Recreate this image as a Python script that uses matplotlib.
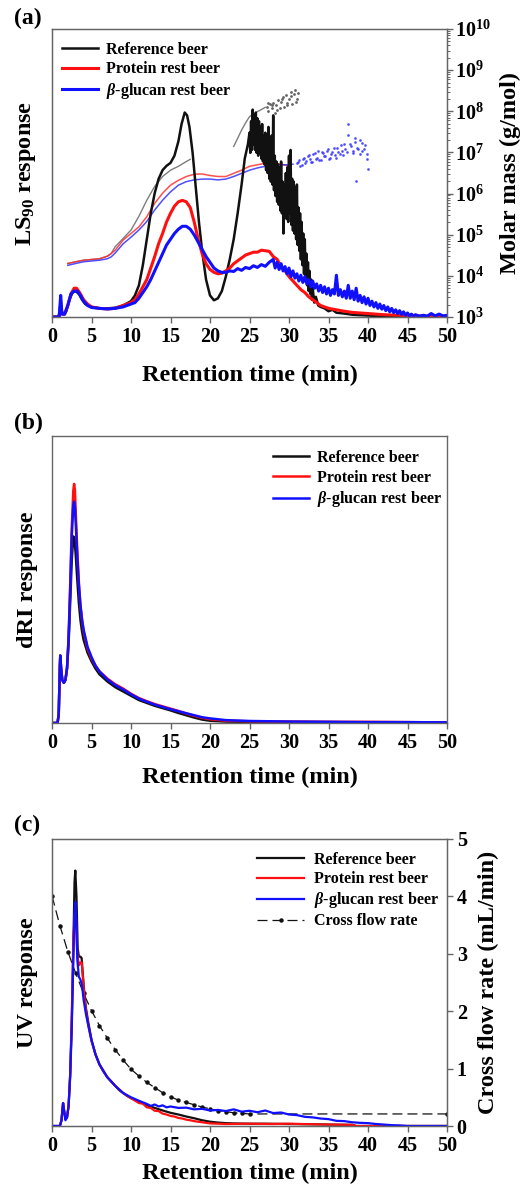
import numpy as np
import matplotlib
matplotlib.use("Agg")
import matplotlib.pyplot as plt
from matplotlib.ticker import FuncFormatter, LogLocator, NullFormatter

plt.rcParams['font.family'] = ['Liberation Serif', 'DejaVu Serif']
plt.rcParams['font.weight'] = 'bold'
plt.rcParams['mathtext.fontset'] = 'custom'
plt.rcParams['mathtext.rm'] = 'Liberation Serif:bold'
plt.rcParams['mathtext.bf'] = 'Liberation Serif:bold'
plt.rcParams['mathtext.it'] = 'Liberation Serif:italic:bold'

labels = ['Reference beer', 'Protein rest beer', r'$\it{\beta}$-glucan rest beer']
colors = ['#111111', '#ff1010', '#1010ff']

# ---------------- (a) LS90 response (relative) ----------------
ls_ref_t = [0, 0.8, 1.0, 1.1, 1.2, 1.5, 1.8, 2.2, 2.6, 3.0, 3.4, 3.8, 4.2, 5, 6, 7, 8, 9, 10, 10.5,
            11, 11.5, 12, 12.5, 13, 13.5, 14, 14.5, 15, 15.5, 16, 16.4, 16.8, 17.1, 17.4, 17.8, 18.2,
            18.6, 19, 19.5, 20, 20.5, 21, 21.5, 22, 22.5, 23, 23.5, 24, 24.4, 24.8,
            25.0, 25.1, 25.2, 25.3, 25.4, 25.5, 25.6, 25.7, 25.8, 25.9,
            26.0, 26.1, 26.2, 26.3, 26.4, 26.5, 26.6, 26.7, 26.8, 26.9,
            27.0, 27.1, 27.2, 27.3, 27.4, 27.5, 27.6, 27.7, 27.8, 27.9,
            28.0, 28.1, 28.2, 28.3, 28.4, 28.5, 28.6, 28.7, 28.8, 28.9,
            29.0, 29.1, 29.2, 29.3, 29.4, 29.5, 29.6, 29.7, 29.8, 29.9,
            30.0, 30.1, 30.2, 30.3, 30.4, 30.5, 30.6, 30.7, 30.8, 30.9,
            31.0, 31.1, 31.2, 31.3, 31.4, 31.5, 31.6, 31.7, 31.8, 31.9,
            32.0, 32.1, 32.2, 32.3, 32.4, 32.5, 32.6, 32.7, 32.8, 32.9,
            33.0, 33.2, 33.4, 33.7, 34, 34.5, 35, 35.5, 36, 37, 38, 40, 42, 45, 50]
ls_ref = [0, 0, 0.02, 0.07, 0.02, 0.01, 0.02, 0.06, 0.085, 0.09, 0.08, 0.06, 0.045, 0.035, 0.03,
          0.03, 0.032, 0.04, 0.055, 0.075, 0.11, 0.18, 0.27, 0.36, 0.43, 0.48, 0.51, 0.525, 0.535,
          0.56, 0.61, 0.67, 0.71, 0.70, 0.66, 0.57, 0.45, 0.33, 0.23, 0.13, 0.075, 0.058, 0.065,
          0.09, 0.14, 0.20, 0.27, 0.36, 0.46, 0.55, 0.60,
          0.64, 0.57, 0.68, 0.58, 0.72, 0.60, 0.70, 0.58, 0.71, 0.57,
          0.69, 0.56, 0.68, 0.57, 0.66, 0.55, 0.67, 0.54, 0.63, 0.53,
          0.64, 0.51, 0.62, 0.50, 0.66, 0.48, 0.60, 0.47, 0.63, 0.46,
          0.70, 0.44, 0.56, 0.42, 0.54, 0.40, 0.53, 0.39, 0.52, 0.37,
          0.54, 0.36, 0.47, 0.29, 0.46, 0.35, 0.50, 0.34, 0.52, 0.33,
          0.56, 0.36, 0.58, 0.32, 0.48, 0.30, 0.47, 0.29, 0.45, 0.27,
          0.46, 0.25, 0.38, 0.23, 0.36, 0.20, 0.33, 0.18, 0.29, 0.15,
          0.27, 0.13, 0.22, 0.11, 0.19, 0.09, 0.16, 0.08, 0.13, 0.06,
          0.10, 0.05, 0.07, 0.04, 0.035, 0.03, 0.02, 0.025, 0.015, 0.012, 0.008, 0.005, 0.003,
          0.002, 0.0]

ls_pro_t = [0, 0.9, 1.1, 1.3, 1.6, 2.0, 2.4, 2.8, 3.1, 3.5, 4, 4.5, 5, 6, 7, 8, 9, 10, 10.5, 11,
            11.5, 12, 12.5, 13, 13.5, 14, 14.5, 15, 15.5, 16, 16.5, 17, 17.5, 18, 18.5, 19, 19.5,
            20, 20.5, 21, 21.5, 22, 22.5, 23, 23.5, 24, 24.5, 25, 25.5, 26, 26.5, 27, 27.5, 28,
            28.5, 29, 29.5, 30, 30.5, 31, 31.5, 32, 32.5, 33, 33.5, 34, 35, 36, 37, 38, 40, 42, 44,
            46, 48, 50]
ls_pro = [0, 0, 0.04, 0.01, 0.01, 0.04, 0.08, 0.10, 0.10, 0.085, 0.06, 0.045, 0.035, 0.03, 0.028,
          0.03, 0.04, 0.05, 0.06, 0.08, 0.105, 0.13, 0.17, 0.21, 0.255, 0.29, 0.33, 0.36, 0.385,
          0.40, 0.405, 0.40, 0.38, 0.33, 0.27, 0.22, 0.185, 0.165, 0.155, 0.15, 0.152, 0.16, 0.17,
          0.185, 0.195, 0.205, 0.215, 0.22, 0.225, 0.225, 0.232, 0.23, 0.228, 0.21, 0.20, 0.175,
          0.16, 0.14, 0.125, 0.11, 0.095, 0.085, 0.07, 0.06, 0.05, 0.04, 0.03, 0.025, 0.02, 0.016,
          0.012, 0.008, 0.006, 0.004, 0.002, 0.0]

ls_glu_t = [0, 0.9, 1.1, 1.25, 1.6, 2.0, 2.4, 2.8, 3.2, 3.6, 4, 4.5, 5, 6, 7, 8, 9, 10, 10.5, 11,
            11.5, 12, 12.5, 13, 13.5, 14, 14.5, 15, 15.5, 16, 16.5, 17, 17.5, 18, 18.5, 19, 19.5,
            20, 20.5, 21, 21.5, 22, 22.5, 23, 23.5, 24, 24.5, 25, 25.5, 26, 26.5, 27, 27.5,
            28.0, 28.25, 28.5, 28.75, 29.0, 29.25, 29.5, 29.75, 30.0, 30.25, 30.5, 30.75,
            31.0, 31.25, 31.5, 31.75, 32.0, 32.25, 32.5, 32.75, 33.0, 33.25, 33.5, 33.75,
            34.0, 34.25, 34.5, 34.75, 35.0, 35.25, 35.5, 35.75, 36.0, 36.25, 36.5, 36.75,
            37.0, 37.25, 37.5, 37.75, 38.0, 38.25, 38.5, 38.75, 39.0, 39.25, 39.5, 39.75,
            40.0, 40.25, 40.5, 40.75, 41.0, 41.25, 41.5, 41.75, 42.0, 42.25, 42.5, 42.75,
            43.0, 43.25, 43.5, 43.75, 44.0, 44.25, 44.5, 44.75, 45.0, 45.25, 45.5, 45.75,
            46.0, 46.5, 47, 47.5, 48, 48.5, 49, 49.5, 50]
ls_glu = [0, 0, 0.075, 0.01, 0.01, 0.04, 0.08, 0.09, 0.09, 0.075, 0.055, 0.04, 0.033, 0.03,
          0.028, 0.03, 0.035, 0.045, 0.05, 0.065, 0.085, 0.105, 0.13, 0.16, 0.19, 0.22, 0.25, 0.27,
          0.29, 0.305, 0.315, 0.315, 0.305, 0.285, 0.26, 0.235, 0.21, 0.19, 0.17, 0.16, 0.155,
          0.155, 0.16, 0.158, 0.168, 0.162, 0.172, 0.168, 0.178, 0.172, 0.182, 0.176, 0.19,
          0.20, 0.17, 0.19, 0.165, 0.185, 0.16, 0.175, 0.15, 0.17, 0.14, 0.16, 0.135,
          0.15, 0.125, 0.145, 0.12, 0.14, 0.115, 0.13, 0.105, 0.125, 0.10, 0.115, 0.09,
          0.11, 0.085, 0.105, 0.08, 0.10, 0.075, 0.095, 0.08, 0.145, 0.075, 0.095, 0.07,
          0.09, 0.065, 0.11, 0.065, 0.09, 0.06, 0.10, 0.055, 0.075, 0.05, 0.07, 0.045,
          0.065, 0.04, 0.055, 0.035, 0.05, 0.03, 0.045, 0.027, 0.04, 0.022, 0.035, 0.018,
          0.03, 0.015, 0.025, 0.012, 0.022, 0.009, 0.018, 0.006, 0.014, 0.004, 0.01, 0.003,
          0.008, 0.003, 0.006, 0.003, 0.012, 0.004, 0.01, 0.004, 0.006]

# molar mass (g/mol)
mm_ref_t1 = [2, 3, 4, 5, 6, 7, 7.5, 8, 9, 10, 11, 12, 13, 14, 15, 16, 17, 17.5]
mm_ref1 = [2.0e4, 2.2e4, 2.4e4, 2.5e4, 2.6e4, 3.0e4, 3.5e4, 5.1e4, 8.1e4, 1.3e5, 2.8e5, 6.9e5,
           1.5e6, 2.6e6, 3.7e6, 4.6e6, 6.0e6, 6.8e6]
mm_ref_t2 = [23, 23.5, 24, 24.5, 25, 25.5, 26, 26.5, 27]
mm_ref2 = [1.4e7, 2.2e7, 3.5e7, 5.2e7, 7.4e7, 8.5e7, 9.8e7, 1.1e8, 1.25e8]
mm_ref_scat_t = [27.2, 27.4, 27.6, 27.8, 28.0, 28.2, 28.4, 28.6, 28.8, 29.0, 29.2, 29.4, 29.6,
                 29.8, 30.0, 30.2, 30.4, 30.6, 30.8, 31.0, 31.2, 27.3, 27.9, 28.5, 29.1, 29.7,
                 30.3, 30.9]
mm_ref_scat = [1.3e8, 1.0e8, 1.5e8, 1.2e8, 1.6e8, 9.0e7, 1.4e8, 1.9e8, 1.2e8, 1.7e8, 2.2e8,
               1.3e8, 2.5e8, 1.6e8, 2.0e8, 3.0e8, 1.5e8, 2.6e8, 3.3e8, 2.0e8, 2.8e8, 1.6e8,
               1.4e8, 1.1e8, 2.0e8, 1.4e8, 2.4e8, 1.7e8]

mm_pro_t = [2, 3, 4, 5, 6, 7, 7.5, 8, 9, 10, 11, 12, 13, 14, 15, 16, 17, 18, 19, 20, 21, 22, 23,
            24, 25, 26, 27, 28, 29, 30]
mm_pro = [2.0e4, 2.2e4, 2.4e4, 2.5e4, 2.6e4, 3.0e4, 3.5e4, 4.2e4, 7.4e4, 1.07e5, 1.55e5, 2.75e5,
          5.8e5, 1.02e6, 1.6e6, 2.1e6, 2.6e6, 2.95e6, 3.0e6, 2.75e6, 2.6e6, 2.6e6, 3.1e6, 3.7e6,
          4.6e6, 5.0e6, 5.5e6, 5.5e6, 5.2e6, 4.7e6]

mm_glu_t = [2, 3, 4, 5, 6, 7, 7.5, 8, 9, 10, 11, 12, 13, 14, 15, 16, 17, 18, 19, 20, 21, 22, 23,
            24, 25, 26, 27, 28, 29, 30, 30.5]
mm_glu = [1.8e4, 2.0e4, 2.2e4, 2.3e4, 2.4e4, 2.6e4, 2.9e4, 3.6e4, 6.0e4, 8.7e4, 1.3e5, 2.1e5,
          4.0e5, 6.9e5, 1.1e6, 1.6e6, 1.95e6, 2.15e6, 2.25e6, 2.25e6, 2.15e6, 2.25e6, 2.6e6,
          3.1e6, 3.7e6, 4.2e6, 4.6e6, 5.0e6, 5.0e6, 5.0e6, 5.2e6]
mm_glu_scat_t = [31, 31.3, 31.6, 31.9, 32.2, 32.5, 32.8, 33.1, 33.4, 33.7, 34, 34.3, 34.6, 34.9,
                 35.2, 35.5, 35.8, 36.1, 36.4, 36.7, 37, 37.3, 37.5, 37.8, 38.1, 38.4, 38.5, 38.7,
                 39, 39.3, 39.6, 39.9, 40]
mm_glu_scat = [5.5e6, 6.5e6, 5.0e6, 7.5e6, 6.2e6, 8.5e6, 6.0e6, 9.0e6, 7.0e6, 1.1e7, 6.5e6,
               9.5e6, 8.0e6, 1.2e7, 7.5e6, 1.0e7, 8.5e6, 1.3e7, 9.0e6, 1.1e7, 1.6e7, 1.0e7, 5.0e7,
               1.4e7, 9.5e6, 1.8e7, 2.0e6, 1.2e7, 2.0e7, 1.1e7, 1.5e7, 9.0e6, 4.0e6]
mm_glu_scat2_t = [31.15, 31.45, 31.75, 32.05, 32.35, 32.65, 32.95, 33.25, 33.55, 33.85, 34.15,
                  34.45, 34.75, 35.05, 35.35, 35.65, 35.95, 36.25, 36.55, 36.85, 37.15, 37.45,
                  37.75, 38.05, 38.35, 38.65, 38.95, 39.25, 39.55, 39.85]
mm_glu_scat2 = [6.0e6, 4.8e6, 7.0e6, 5.5e6, 8.0e6, 6.8e6, 5.8e6, 9.5e6, 7.5e6, 6.5e6, 1.0e7,
                8.0e6, 1.1e7, 6.8e6, 9.0e6, 1.3e7, 7.5e6, 1.0e7, 1.5e7, 8.5e6, 1.2e7, 2.6e7,
                1.6e7, 1.1e7, 2.2e7, 1.3e7, 9.0e6, 1.7e7, 1.2e7, 7.0e6]

# ---------------- (b) dRI response (relative) ----------------
ri_ref_t = [0, 0.7, 0.85, 1.0, 1.05, 1.15, 1.3, 1.5, 1.7, 1.9, 2.1, 2.3, 2.5, 2.7, 2.85, 3.0,
            3.2, 3.4, 3.6, 3.8, 4.0, 4.5, 5.0, 5.5, 6, 7, 8, 9, 10, 11, 12, 13, 14, 15, 16, 17,
            18, 19, 20, 22, 25, 30, 35, 40, 45, 50]
ri_ref = [0, 0, 0.03, 0.2, 0.235, 0.19, 0.15, 0.14, 0.15, 0.19, 0.28, 0.42, 0.57, 0.65, 0.64,
          0.59, 0.50, 0.42, 0.36, 0.32, 0.29, 0.245, 0.215, 0.19, 0.17, 0.145, 0.125, 0.11, 0.095,
          0.08, 0.07, 0.06, 0.052, 0.044, 0.035, 0.027, 0.019, 0.012, 0.008, 0.005, 0.004, 0.003,
          0.003, 0.002, 0.002, 0.001]
ri_pro_t = [0, 0.7, 0.85, 1.0, 1.05, 1.15, 1.3, 1.5, 1.7, 1.9, 2.1, 2.3, 2.5, 2.7, 2.8, 2.9,
            3.0, 3.2, 3.4, 3.6, 3.8, 4.0, 4.5, 5.0, 5.5, 6, 7, 8, 9, 10, 11, 12, 13, 14, 15, 16,
            17, 18, 19, 20, 22, 25, 30, 35, 40, 45, 50]
ri_pro = [0, 0, 0.03, 0.2, 0.235, 0.19, 0.15, 0.14, 0.15, 0.19, 0.30, 0.48, 0.68, 0.81, 0.833,
          0.81, 0.74, 0.60, 0.49, 0.41, 0.36, 0.32, 0.26, 0.225, 0.20, 0.18, 0.155, 0.135, 0.12,
          0.102, 0.087, 0.076, 0.066, 0.058, 0.05, 0.042, 0.033, 0.025, 0.018, 0.013, 0.008,
          0.006, 0.005, 0.004, 0.004, 0.003, 0.002]
ri_glu_t = ri_pro_t
ri_glu = [0, 0, 0.03, 0.2, 0.235, 0.19, 0.15, 0.14, 0.15, 0.19, 0.29, 0.46, 0.65, 0.76, 0.771,
          0.75, 0.70, 0.58, 0.48, 0.41, 0.36, 0.325, 0.265, 0.23, 0.20, 0.18, 0.152, 0.132, 0.117,
          0.10, 0.085, 0.074, 0.064, 0.056, 0.048, 0.041, 0.034, 0.027, 0.02, 0.016, 0.01, 0.007,
          0.005, 0.004, 0.003, 0.003, 0.002]

# ---------------- (c) UV response (relative) + cross flow ----------------
uv_ref_t = [0, 1.0, 1.2, 1.4, 1.55, 1.7, 1.9, 2.1, 2.3, 2.5, 2.7, 2.85, 2.95, 3.1, 3.25, 3.4,
            3.6, 3.75, 3.9, 4.1, 4.3, 4.6, 5.0, 5.5, 6, 6.5, 7, 7.5, 8, 8.5, 9, 9.5, 10, 11, 12,
            13, 14, 15, 16, 17, 18, 19, 20, 21, 22, 23, 25, 27, 30, 33, 35, 38, 38.5, 50]
uv_ref = [0, 0, 0.02, 0.08, 0.05, 0.025, 0.03, 0.07, 0.18, 0.36, 0.62, 0.85, 0.89, 0.80, 0.62,
          0.59, 0.59, 0.585, 0.53, 0.46, 0.41, 0.36, 0.30, 0.25, 0.215, 0.19, 0.17, 0.155, 0.14,
          0.125, 0.115, 0.105, 0.097, 0.085, 0.073, 0.063, 0.054, 0.046, 0.04, 0.033, 0.027, 0.02,
          0.015, 0.012, 0.01, 0.009, 0.008, 0.008, 0.007, 0.006, 0.005, 0.004, 0.0, 0.0]
uv_pro_t = [0, 1.0, 1.2, 1.4, 1.55, 1.7, 1.9, 2.1, 2.3, 2.5, 2.7, 2.9, 3.05, 3.2, 3.4, 3.6,
            3.75, 3.9, 4.1, 4.3, 4.6, 5.0, 5.5, 6, 7, 8, 9, 10, 11, 11.5, 12, 12.5, 13, 13.5, 14,
            14.5, 15, 15.5, 16, 16.5, 17, 17.5, 18, 18.5, 19, 19.5, 20, 22, 25, 28, 30, 33, 35,
            38, 38.5, 50]
uv_pro = [0, 0, 0.02, 0.08, 0.05, 0.025, 0.03, 0.07, 0.18, 0.38, 0.66, 0.74, 0.72, 0.60, 0.56,
          0.57, 0.57, 0.52, 0.45, 0.40, 0.35, 0.295, 0.25, 0.215, 0.17, 0.14, 0.115, 0.097, 0.08,
          0.078, 0.065, 0.063, 0.053, 0.052, 0.043, 0.04, 0.035, 0.033, 0.028, 0.026, 0.022, 0.02,
          0.017, 0.015, 0.013, 0.011, 0.009, 0.007, 0.008, 0.007, 0.008, 0.006, 0.005, 0.004, 0.0,
          0.0]
uv_glu_t = [0, 1.0, 1.2, 1.4, 1.55, 1.7, 1.9, 2.1, 2.3, 2.5, 2.7, 2.85, 2.95, 3.05, 3.2, 3.4,
            3.6, 3.8, 4.0, 4.3, 4.6, 5.0, 5.5, 6, 7, 8, 9, 10, 11, 12, 12.5, 13, 13.5, 14, 14.5,
            15, 16, 17, 18, 19, 20, 21, 22, 23, 24, 25, 26, 27, 28, 29, 30, 31, 32, 33, 34, 35,
            36, 37, 38, 39, 40, 41, 42, 43, 44, 45, 50]
uv_glu = [0, 0, 0.02, 0.08, 0.05, 0.02, 0.03, 0.07, 0.17, 0.34, 0.58, 0.74, 0.78, 0.74, 0.58,
          0.52, 0.51, 0.49, 0.44, 0.39, 0.35, 0.30, 0.25, 0.215, 0.17, 0.14, 0.115, 0.10, 0.088,
          0.077, 0.07, 0.075, 0.068, 0.072, 0.065, 0.068, 0.063, 0.064, 0.058, 0.06, 0.054, 0.056,
          0.052, 0.058, 0.05, 0.053, 0.048, 0.054, 0.045, 0.047, 0.04, 0.038, 0.032, 0.03, 0.026,
          0.024, 0.018, 0.017, 0.013, 0.011, 0.01, 0.007, 0.005, 0.003, 0.002, 0.0, 0.0]

cf_t = [0, 1, 2, 3, 4, 5, 6, 7, 8, 9, 10, 11, 12, 13, 14, 15, 16, 17, 18, 19, 20, 21, 22, 23,
        24, 25, 50]
cf_rate = [4.01, 3.49, 3.04, 2.66, 2.31, 2.01, 1.75, 1.53, 1.33, 1.15, 0.99, 0.87, 0.76, 0.67,
           0.58, 0.51, 0.45, 0.41, 0.37, 0.33, 0.30, 0.27, 0.25, 0.23, 0.22, 0.21, 0.21]

# ---------------- figure ----------------
fig = plt.figure(figsize=(5.30, 11.85), dpi=100)
W, H = 530.0, 1185.0
spine_c = '#666666'


def make_axes(top_px, bottom_px, xpad):
    ax = fig.add_axes([52 / W, 1 - bottom_px / H, 395 / W, (bottom_px - top_px) / H])
    ax.set_xlim(0, 50)
    ax.set_ylim(0, 1)
    ax.set_xticks(range(0, 51, 5))
    ax.set_yticks([])
    ax.tick_params(axis='x', direction='out', length=4, width=1, color=spine_c,
                   labelsize=14.5, pad=3)
    for s in ax.spines.values():
        s.set_color(spine_c)
        s.set_linewidth(1)
    ax.set_xlabel('Retention time (min)', fontsize=17.5, fontweight='bold', labelpad=xpad)
    return ax


def add_legend(ax, handles, x_anchor, y_anchor, hlen=2.25, hpad=0.5, spacing=0.22):
    ax.legend(handles=handles, loc='upper left', bbox_to_anchor=(x_anchor, y_anchor),
              frameon=False, fontsize=11.5, handlelength=hlen, handletextpad=hpad,
              labelspacing=spacing, borderaxespad=0, borderpad=0)


# (a)
axa = make_axes(29, 317, 13)
axa2 = axa.twinx()
axa2.set_yscale('log')
axa2.set_ylim(1e3, 1e10)
axa2.yaxis.set_major_locator(LogLocator(base=10, numticks=20))
axa2.yaxis.set_minor_locator(LogLocator(base=10, subs=np.arange(2, 10), numticks=20))
axa2.yaxis.set_minor_formatter(NullFormatter())
axa2.yaxis.set_major_formatter(FuncFormatter(lambda v, p: r'$\mathbf{10^{%d}}$' % round(np.log10(v))))
axa2.tick_params(axis='y', which='major', direction='out', length=4, width=1, color=spine_c,
                 labelsize=14.5, pad=2)
axa2.tick_params(axis='y', which='minor', direction='out', length=2, width=0.7, color=spine_c)
for s in axa2.spines.values():
    s.set_color(spine_c)
axa2.set_ylabel('Molar mass (g/mol)', fontsize=17.5, fontweight='bold', labelpad=6)

axa2.plot(mm_ref_t1, mm_ref1, color='#666666', lw=1.0, alpha=0.85)
axa2.plot(mm_ref_t2, mm_ref2, color='#666666', lw=1.0, alpha=0.85)
axa2.plot(mm_ref_scat_t, mm_ref_scat, color='#666666', lw=0, marker='.', ms=2)
axa2.plot(mm_pro_t, mm_pro, color='#ff3030', lw=1.1, alpha=0.85)
axa2.plot(mm_glu_t, mm_glu, color='#3030ff', lw=1.1, alpha=0.85)
axa2.plot(mm_glu_scat_t, mm_glu_scat, color='#4040ff', lw=0, marker='.', ms=2, alpha=0.8)
axa2.plot(mm_glu_scat2_t, mm_glu_scat2, color='#4040ff', lw=0, marker='.', ms=2, alpha=0.8)

axa.set_zorder(axa2.get_zorder() + 1)
axa.patch.set_visible(False)
la = []
for t, v, c, lab, lw in [(ls_ref_t, ls_ref, colors[0], labels[0], 1.8),
                         (ls_pro_t, ls_pro, colors[1], labels[1], 2.2),
                         (ls_glu_t, ls_glu, colors[2], labels[2], 2.2)]:
    ln, = axa.plot(t, v, color=c, lw=lw, label=lab)
    la.append(ln)
axa.set_ylabel(r'LS$_{90}$ response', fontsize=17.5, fontweight='bold', labelpad=10)
add_legend(axa, la, 0.025, 0.955)
fig.text(14 / W, 1 - 18 / H, '(a)', fontsize=17, fontweight='bold', va='center', ha='left')

# (b)
axb = make_axes(436, 723, 10)
lb = []
for t, v, c, lab in [(ri_ref_t, ri_ref, colors[0], labels[0]),
                     (ri_pro_t, ri_pro, colors[1], labels[1]),
                     (ri_glu_t, ri_glu, colors[2], labels[2])]:
    ln, = axb.plot(t, v, color=c, lw=1.8, label=lab)
    lb.append(ln)
axb.set_ylabel('dRI response', fontsize=17.5, fontweight='bold', labelpad=10)
add_legend(axb, lb, 0.56, 0.951)
fig.text(14 / W, 1 - 423 / H, '(b)', fontsize=17, fontweight='bold', va='center', ha='left')

# (c)
axc = make_axes(839, 1126, 5)
axc2 = axc.twinx()
axc2.set_ylim(0, 5)
axc2.set_yticks(range(0, 6))
axc2.tick_params(axis='y', direction='out', length=4, width=1, color=spine_c, labelsize=14.5,
                 pad=3)
for s in axc2.spines.values():
    s.set_color(spine_c)
axc2.set_ylabel('Cross flow rate (mL/min)', fontsize=17.5, fontweight='bold', labelpad=8)
cf_line, = axc2.plot(cf_t, cf_rate, color='#111111', lw=0.9, ls=(0, (8, 4)), marker='o', ms=2.2,
                     label='Cross flow rate')
axc.set_zorder(axc2.get_zorder() + 1)
axc.patch.set_visible(False)
lc = []
for t, v, c, lab in [(uv_ref_t, uv_ref, colors[0], labels[0]),
                     (uv_pro_t, uv_pro, colors[1], labels[1]),
                     (uv_glu_t, uv_glu, colors[2], labels[2])]:
    ln, = axc.plot(t, v, color=c, lw=1.6, label=lab)
    lc.append(ln)
lc.append(cf_line)
axc.set_ylabel('UV response', fontsize=17.5, fontweight='bold', labelpad=10)
add_legend(axc, lc, 0.52, 0.955, hlen=2.9, hpad=0.65, spacing=0.2)
fig.text(14 / W, 1 - 825 / H, '(c)', fontsize=17, fontweight='bold', va='center', ha='left')

fig.savefig('out.png', dpi=100)
